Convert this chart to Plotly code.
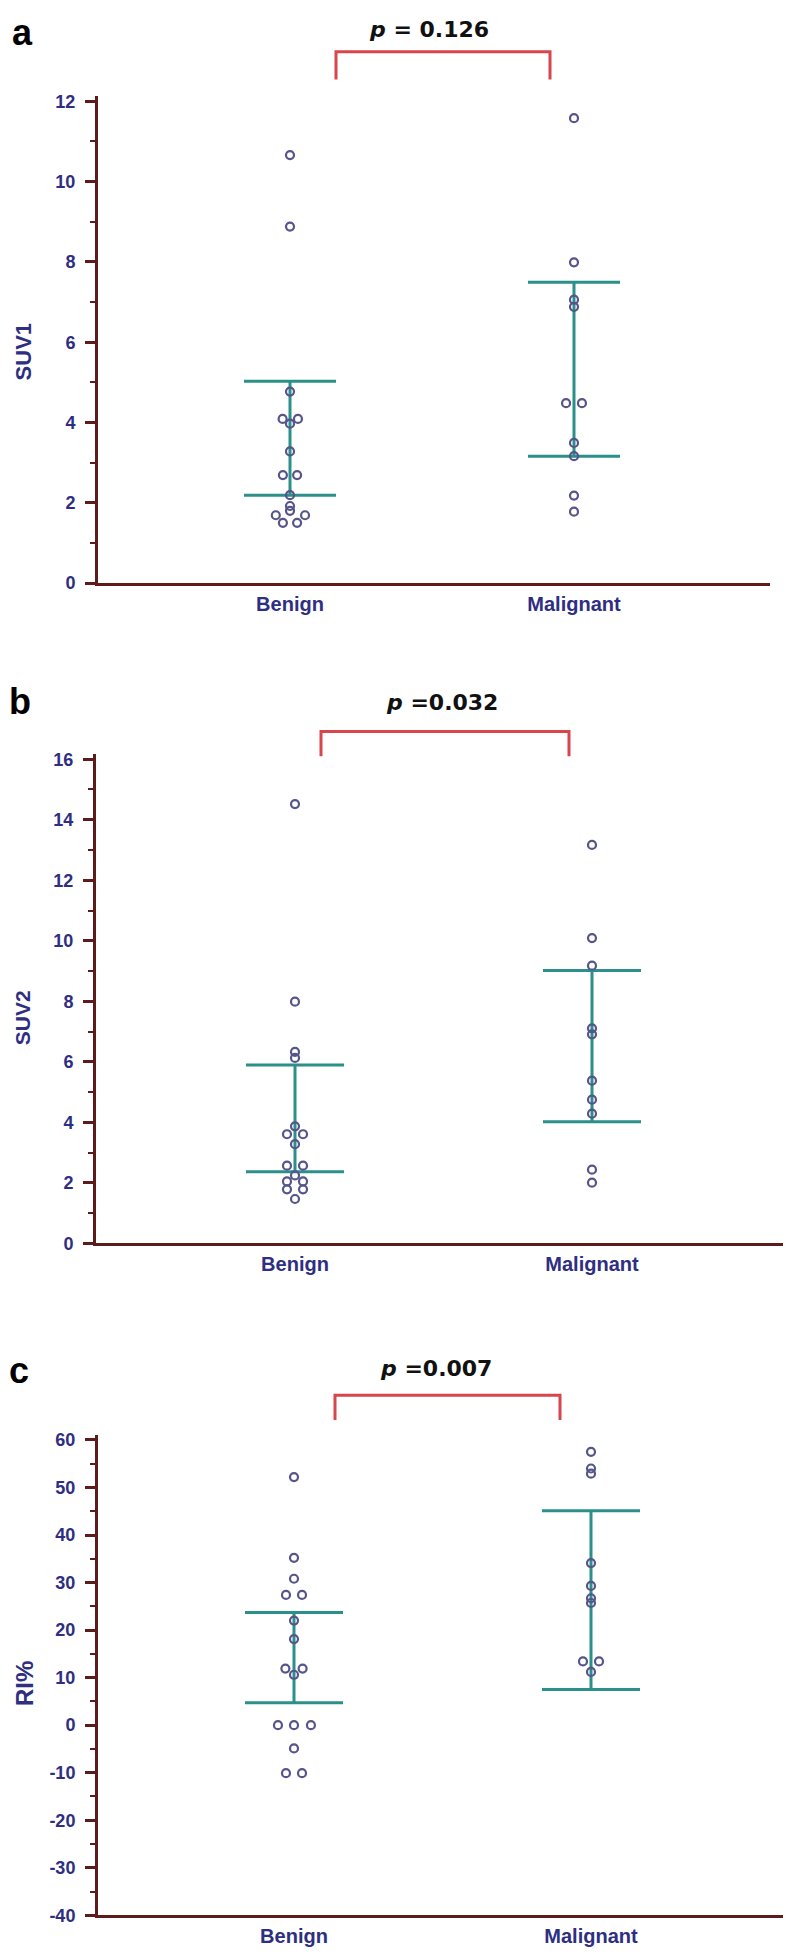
import plotly.graph_objects as go

W, H = 791, 1955

categories = ["Benign", "Malignant"]

# ---- panel a : SUV1 ----
suv1_benign = [10.66, 8.88, 4.77, 4.09, 4.09, 3.97, 3.28, 2.69, 2.69, 2.19, 1.92, 1.80, 1.69, 1.69, 1.50, 1.50]
suv1_malignant = [11.58, 7.99, 7.06, 6.88, 4.48, 4.48, 3.49, 3.16, 2.18, 1.78]
suv1_benign_band = [2.19, 5.03]
suv1_malignant_band = [3.16, 7.49]
suv1_ticks = [0, 2, 4, 6, 8, 10, 12]

# ---- panel b : SUV2 ----
suv2_benign = [14.52, 7.99, 6.33, 6.13, 3.87, 3.61, 3.61, 3.28, 2.57, 2.57, 2.25, 2.05, 2.05, 1.79, 1.79, 1.47]
suv2_malignant = [13.17, 10.09, 9.18, 7.11, 6.91, 5.38, 4.75, 4.29, 2.44, 2.01]
suv2_benign_band = [2.37, 5.90]
suv2_malignant_band = [4.02, 9.02]
suv2_ticks = [0, 2, 4, 6, 8, 10, 12, 14, 16]

# ---- panel c : RI% ----
ri_benign = [52.2, 35.2, 30.8, 27.4, 27.4, 22.0, 18.1, 11.9, 11.9, 10.6, 0.0, 0.0, 0.0, -4.9, -10.1, -10.1]
ri_malignant = [57.5, 54.0, 52.9, 34.1, 29.3, 26.7, 25.7, 13.4, 13.4, 11.2]
ri_benign_band = [4.7, 23.7]
ri_malignant_band = [7.5, 45.1]
ri_ticks = [-40, -30, -20, -10, 0, 10, 20, 30, 40, 50, 60]

panel_letters = ["a", "b", "c"]
y_titles = ["SUV1", "SUV2", "RI%"]
p_texts = ["<i>p</i> = 0.126", "<i>p</i> =0.032", "<i>p</i> =0.007"]

# horizontal jitter of overlapping points (category units)
suv1_benign_jit = [0, 0, 0, -0.026, 0.028, 0, 0, -0.025, 0.025, 0, 0, 0, -0.05, 0.053, -0.025, 0.025]
suv1_malignant_jit = [0, 0, 0, 0, -0.028, 0.028, 0, 0, 0, 0]
suv2_benign_jit = [0, 0, 0, 0, 0, -0.027, 0.027, 0, -0.027, 0.027, 0, -0.027, 0.027, -0.027, 0.027, 0]
suv2_malignant_jit = [0] * 10
ri_benign_jit = [0, 0, 0, -0.027, 0.027, 0, 0, -0.029, 0.029, 0, -0.054, 0, 0.057, 0, -0.027, 0.027]
ri_malignant_jit = [0, 0, 0, 0, 0, 0, 0, -0.027, 0.027, 0]

# ---- styling / layout (pixels) ----
AXIS_COL = "#5c1c1c"
NAVY = "#2e2e82"
TEAL = "#2b8f8a"
PT_COL = "#55558a"
RED = "#d8464c"
FONT = "Liberation Sans, Arial, sans-serif"

panels = [
    dict(benign=suv1_benign, malignant=suv1_malignant, bj=suv1_benign_jit, mj=suv1_malignant_jit,
         bband=suv1_benign_band, mband=suv1_malignant_band, ticks=suv1_ticks, minor=1,
         ymin=0, ymax=12.124, y0px=574.5, ppu=40.46,
         xl=90, xr=762, xb=282, xm=566, hw=46,
         br=(328, 542, 39, 67), pc=(421, 17), letter=(14, 20), title=(15, 342, 22), tsize=18),
    dict(benign=suv2_benign, malignant=suv2_malignant, bj=suv2_benign_jit, mj=suv2_malignant_jit,
         bband=suv2_benign_band, mband=suv2_malignant_band, ticks=suv2_ticks, minor=1,
         ymin=0, ymax=16.16, y0px=1240, ppu=30.5,
         xl=88, xr=787, xb=287, xm=584, hw=49,
         br=(313, 561, 724, 749), pc=(434, 695), letter=(12, 694), title=(14, 1013, 21), tsize=18),
    dict(benign=ri_benign, malignant=ri_malignant, bj=ri_benign_jit, mj=ri_malignant_jit,
         bband=ri_benign_band, mband=ri_malignant_band, ticks=ri_ticks, minor=5,
         ymin=-40, ymax=61, y0px=1917, ppu=4.79,
         xl=90, xr=787, xb=286, xm=583, hw=49,
         br=(327, 552, 1393, 1418), pc=(428, 1366), letter=(11, 1368), title=(16, 1684, 24), tsize=18),
]


def px_x(p):
    return p / W


def px_y(p):
    return 1 - p / H


fig = go.Figure()
shapes = []
annotations = []

for i, P in enumerate(panels):
    n = "" if i == 0 else str(i + 1)
    xa, ya = "x" + n, "y" + n
    spacing = P["xm"] - P["xb"]
    xlo = (P["xl"] - P["xb"]) / spacing
    xhi = (P["xr"] - P["xb"]) / spacing
    top_px = P["y0px"] - (P["ymax"] - P["ymin"]) * P["ppu"]
    w = P["hw"] / spacing

    # band lines (upper / lower bars joined by a vertical line)
    for c, band in ((0, P["bband"]), (1, P["mband"])):
        lo, hi = band
        fig.add_trace(go.Scatter(
            x=[c - w, c + w, None, c - w, c + w, None, c, c],
            y=[hi, hi, None, lo, lo, None, lo, hi],
            mode="lines", line=dict(color=TEAL, width=3),
            xaxis=xa, yaxis=ya, showlegend=False, hoverinfo="skip"))

    # individual points
    for c, vals, jit in ((0, P["benign"], P["bj"]), (1, P["malignant"], P["mj"])):
        fig.add_trace(go.Scatter(
            x=[c + j for j in jit], y=vals, mode="markers",
            marker=dict(symbol="circle-open", size=8, color=PT_COL, line=dict(width=2.2, color=PT_COL)),
            xaxis=xa, yaxis=ya, showlegend=False, cliponaxis=False))

    fig.layout["xaxis" + n] = dict(
        domain=[px_x(P["xl"]), px_x(P["xr"])], anchor=ya, range=[xlo, xhi],
        showline=True, linecolor=AXIS_COL, linewidth=3, showgrid=False, zeroline=False,
        tickmode="array", tickvals=[0, 1], ticktext=categories, ticks="",
        tickfont=dict(family=FONT, size=20, color=NAVY, weight="bold"),
        ticklabelstandoff=1, fixedrange=True)
    fig.layout["yaxis" + n] = dict(
        domain=[px_y(P["y0px"]), px_y(top_px)], anchor=xa, range=[P["ymin"], P["ymax"]],
        showline=True, linecolor=AXIS_COL, linewidth=3, showgrid=False, zeroline=False,
        tickmode="array", tickvals=P["ticks"], ticktext=[str(t) for t in P["ticks"]],
        ticks="outside", ticklen=10, tickwidth=3, tickcolor=AXIS_COL,
        minor=dict(ticks="outside", ticklen=5, tickwidth=2, tickcolor=AXIS_COL,
                   tick0=0, dtick=P["minor"], showgrid=False),
        tickfont=dict(family=FONT, size=P["tsize"], color=NAVY, weight="bold"),
        ticklabelstandoff=6, fixedrange=True)

    # significance bracket
    x0, x1, yt, yb = P["br"]
    shapes.append(dict(type="path", xref="paper", yref="paper",
                       path=f"M {px_x(x0)} {px_y(yb)} L {px_x(x0)} {px_y(yt)} L {px_x(x1)} {px_y(yt)} L {px_x(x1)} {px_y(yb)}",
                       line=dict(color=RED, width=3)))
    annotations.append(dict(text="<b>" + p_texts[i] + "</b>", x=px_x(P["pc"][0]), y=px_y(P["pc"][1]),
                            xref="paper", yref="paper", showarrow=False, xanchor="center", yanchor="middle",
                            font=dict(family="DejaVu Sans, sans-serif", size=22, color="#111111")))
    annotations.append(dict(text="<b>" + panel_letters[i] + "</b>", x=px_x(P["letter"][0]), y=px_y(P["letter"][1]),
                            xref="paper", yref="paper", showarrow=False, xanchor="center", yanchor="middle",
                            font=dict(family=FONT, size=36, color="#000000")))
    tx, ty, ts = P["title"]
    annotations.append(dict(text="<b>" + y_titles[i] + "</b>", x=px_x(tx), y=px_y(ty), textangle=-90,
                            xref="paper", yref="paper", showarrow=False, xanchor="center", yanchor="middle",
                            font=dict(family=FONT, size=ts, color=NAVY)))

fig.update_layout(width=W, height=H, margin=dict(l=0, r=0, t=0, b=0),
                  paper_bgcolor="white", plot_bgcolor="white",
                  shapes=shapes, annotations=annotations, showlegend=False)

fig.write_html("out.html")
